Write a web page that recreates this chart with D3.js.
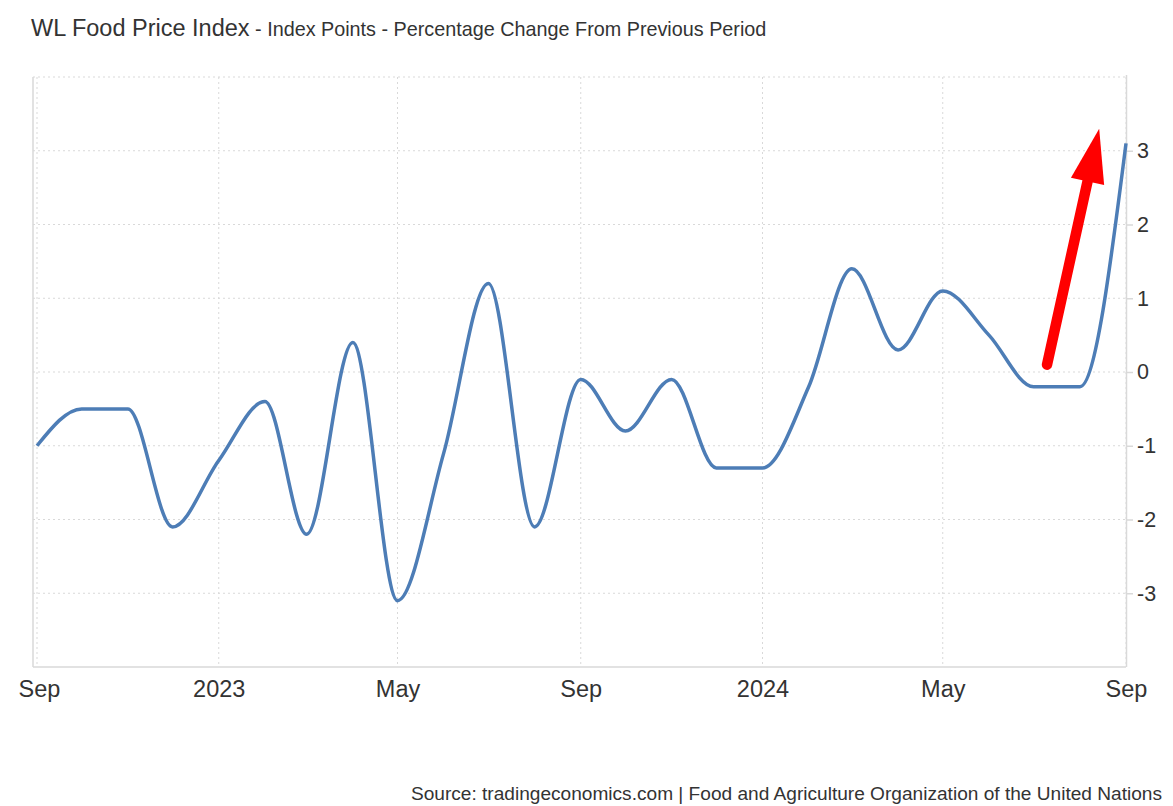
<!DOCTYPE html>
<html>
<head>
<meta charset="utf-8">
<script src="https://cdn.jsdelivr.net/npm/d3@7"></script>
<style>
  body { margin: 0; background: #fff; font-family: "Liberation Sans", Arial, sans-serif; }
  #chart { width: 1173px; height: 806px; }
  .grid line { stroke: #d9d9d9; stroke-dasharray: 2,3; }
</style>
</head>
<body>
<div id="chart"></div>
<script>
// monthly percentage change, Sep 2022 .. Sep 2024
const months = [
  "2022-09", "2022-10", "2022-11", "2022-12",
  "2023-01", "2023-02", "2023-03", "2023-04", "2023-05", "2023-06",
  "2023-07", "2023-08", "2023-09", "2023-10", "2023-11", "2023-12",
  "2024-01", "2024-02", "2024-03", "2024-04", "2024-05", "2024-06",
  "2024-07", "2024-08", "2024-09"
];
const values = [
  -1.0, -0.5, -0.5, -2.1,
  -1.2, -0.4, -2.2, 0.4, -3.1, -1.1,
  1.2, -2.1, -0.1, -0.8, -0.1, -1.3,
  -1.3, -0.2, 1.4, 0.3, 1.1, 0.5,
  -0.2, -0.2, 3.1
];
const xTickMonths = ["2022-09", "2023-01", "2023-05", "2023-09", "2024-01", "2024-05", "2024-09"];
const yTicks = [-3, -2, -1, 0, 1, 2, 3];
// red arrow annotation: tail and tip (date, value)
const arrowTail = ["2024-07-10", 0.1];
const arrowTip = ["2024-08-14", 3.3];

const parse = d3.timeParse("%Y-%m");
const parseDay = d3.timeParse("%Y-%m-%d");
const data = months.map((m, i) => ({ date: parse(m), value: values[i] }));

const width = 1173, height = 806;
const plot = { left: 37, right: 1126, top: 77, bottom: 667 };

const svg = d3.select("#chart").append("svg")
  .attr("width", width)
  .attr("height", height);

const x = d3.scaleTime()
  .domain([parse("2022-09"), parse("2024-09")])
  .range([plot.left, plot.right]);

const y = d3.scaleLinear()
  .domain([-4, 4])
  .range([plot.bottom, plot.top]);

// Title
const title = svg.append("text")
  .attr("x", 31)
  .attr("y", 36)
  .attr("fill", "#333");
title.append("tspan").attr("font-size", 23.5).text("WL Food Price Index");
title.append("tspan").attr("font-size", 19.8).text(" - Index Points - Percentage Change From Previous Period");

// horizontal grid
svg.append("g")
  .attr("class", "grid")
  .selectAll("line")
  .data(yTicks.concat([4]))
  .join("line")
  .attr("x1", 33)
  .attr("x2", plot.right)
  .attr("y1", d => y(d))
  .attr("y2", d => y(d));

// vertical grid
svg.append("g")
  .attr("class", "grid")
  .selectAll("line")
  .data(xTickMonths.map(parse))
  .join("line")
  .attr("x1", d => x(d))
  .attr("x2", d => x(d))
  .attr("y1", plot.top)
  .attr("y2", plot.bottom);

// frame lines
svg.append("line")
  .attr("x1", 33).attr("x2", 33)
  .attr("y1", plot.top).attr("y2", plot.bottom)
  .attr("stroke", "#d9d9d9").attr("stroke-width", 1.5);
svg.append("line")
  .attr("x1", 33).attr("x2", plot.right)
  .attr("y1", plot.bottom).attr("y2", plot.bottom)
  .attr("stroke", "#d9d9d9").attr("stroke-width", 1.5);

// X axis labels
const xAxis = svg.append("g")
  .attr("transform", `translate(0,${plot.bottom})`)
  .call(d3.axisBottom(x)
    .tickValues(xTickMonths.map(parse))
    .tickSize(0)
    .tickPadding(30)
    .tickFormat(d => d.getMonth() === 0 ? d3.timeFormat("%Y")(d) : d3.timeFormat("%b")(d)));
xAxis.select(".domain").remove();
xAxis.selectAll("text")
  .attr("font-family", "Liberation Sans, Arial, sans-serif")
  .attr("font-size", 23.5)
  .attr("fill", "#333")
  .attr("dy", 0);
xAxis.selectAll(".tick text")
  .filter((d, i) => i === 0)
  .attr("dx", 2);

// Y axis on the right
const yAxis = svg.append("g")
  .attr("transform", `translate(${plot.right},0)`)
  .call(d3.axisRight(y)
    .tickValues(yTicks)
    .tickSize(7)
    .tickSizeOuter(0)
    .tickPadding(4)
    .tickFormat(d => String(d)));
yAxis.select(".domain").attr("stroke", "#d9d9d9").attr("stroke-width", 1.5)
  .attr("d", `M0.5,${plot.top - 2}V${plot.bottom}`);
yAxis.selectAll(".tick line").attr("stroke", "#d9d9d9").attr("stroke-width", 1.5);
yAxis.selectAll("text")
  .attr("font-family", "Liberation Sans, Arial, sans-serif")
  .attr("font-size", 21.5)
  .attr("fill", "#333");

// the series
const line = d3.line()
  .curve(d3.curveMonotoneX)
  .x(d => x(d.date))
  .y(d => y(d.value));

svg.append("path")
  .datum(data)
  .attr("fill", "none")
  .attr("stroke", "#4d7db6")
  .attr("stroke-width", 3.5)
  .attr("stroke-linejoin", "round")
  .attr("d", line);

// red arrow
const tx = x(parseDay(arrowTail[0])), ty = y(arrowTail[1]);
const hx = x(parseDay(arrowTip[0])), hy = y(arrowTip[1]);
const ang = Math.atan2(hy - ty, hx - tx);
const headLen = 54, headHalf = 17;
const bx = hx - headLen * Math.cos(ang), by = hy - headLen * Math.sin(ang);
const px = -Math.sin(ang), py = Math.cos(ang);

svg.append("line")
  .attr("x1", tx).attr("y1", ty)
  .attr("x2", bx + 8 * Math.cos(ang)).attr("y2", by + 8 * Math.sin(ang))
  .attr("stroke", "#ff0000")
  .attr("stroke-width", 10.5)
  .attr("stroke-linecap", "round");

svg.append("path")
  .attr("d", `M${hx},${hy}L${bx + headHalf * px},${by + headHalf * py}L${bx - headHalf * px},${by - headHalf * py}Z`)
  .attr("fill", "#ff0000");

// Source
svg.append("text")
  .attr("x", 1162)
  .attr("y", 800)
  .attr("text-anchor", "end")
  .attr("font-size", 19.1)
  .attr("fill", "#333")
  .text("Source: tradingeconomics.com | Food and Agriculture Organization of the United Nations");
</script>
</body>
</html>
